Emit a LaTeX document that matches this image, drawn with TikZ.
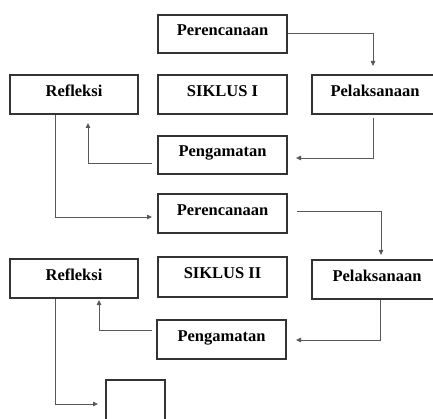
\documentclass[tikz,border=0pt]{standalone}
\usepackage{fontspec}
\setmainfont{Liberation Serif}
\usetikzlibrary{arrows.meta,calc}
\begin{document}
\begin{tikzpicture}[x=1pt,y=-1pt,
  box/.style={draw=black!80,line width=1.2pt,minimum width=129pt,minimum height=38pt,inner sep=0pt,
    text height=9pt,text depth=5pt,font=\fontsize{16.5}{18}\selectfont\bfseries},
  arr/.style={draw=black!65,line width=0.8pt,-{Triangle[length=5pt,width=4.5pt]}}]
\useasboundingbox (0,0) rectangle (433,419);
\clip (0,0) rectangle (433,419);
% cycle I
\node[box] (per1) at (222.5,34) {Perencanaan};
\node[box,minimum width=128pt,minimum height=39pt] (ref1) at (74,94.5) {Refleksi};
\node[box,minimum height=39pt] (sik1) at (222.5,94.5) {SIKLUS I};
\node[box,minimum width=126pt,minimum height=39pt] (pel1) at (375,94.5) {Pelaksanaan};
\node[box] (pen1) at (222.5,155) {Pengamatan};
% cycle II
\node[box,minimum height=39pt] (per2) at (222.5,213.5) {Perencanaan};
\node[box,minimum width=128pt,minimum height=39pt] (ref2) at (74,278.5) {Refleksi};
\node[box,minimum height=40pt] (sik2) at (222.5,277) {SIKLUS II};
\node[box,minimum width=130pt,minimum height=39pt] (pel2) at (377,279.5) {Pelaksanaan};
\node[box,minimum height=39pt] (pen2) at (221.5,339.5) {Pengamatan};
\node[box,minimum width=59pt,minimum height=50pt] (end) at (135.5,405) {};
% free ends of the connectors (arrow tips stop short of the boxes)
\coordinate (a1) at (373,66);
\coordinate (b1) at (296,158);
\coordinate (c1) at (88,123);
\coordinate (d1) at (152,217);
\coordinate (e1) at (381,255);
\coordinate (f1) at (296,340);
\coordinate (g1) at (99,300);
\coordinate (h1) at (98,404);
% connectors
\draw[arr] ($(per1.east)+(0,-1)$) -| (a1);
\draw[arr] ($(pel1.south)+(-2,3)$) |- (b1);
\draw[arr] ($(pen1.west)+(-5,8)$) -| (c1);
\draw[arr] ($(ref1.south)+(-19,0)$) |- (d1);
\draw[arr] ($(per2.east)+(9,-2.5)$) -| (e1);
\draw[arr] ($(pel2.south)+(3,0)$) |- (f1);
\draw[arr] ($(pen2.west)+(-4,-9.5)$) -| (g1);
\draw[arr] ($(ref2.south)+(-19,0)$) |- (h1);
\end{tikzpicture}
\end{document}
